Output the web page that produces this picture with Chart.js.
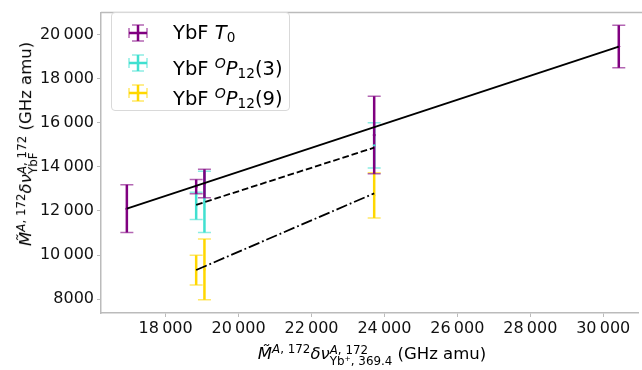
<!DOCTYPE html>
<html>
<head>
<meta charset="utf-8">
<script src="https://cdn.jsdelivr.net/npm/chart.js"></script>
<style>
    body { margin: 0; background: #fff; font-family: "DejaVu Sans", sans-serif; }
    #wrap { position: relative; width: 642px; height: 370px; overflow: hidden; }
    #wrap canvas { position: absolute; left: 0; top: 0; }
    .ttl { position: absolute; white-space: nowrap; font-size: 16.5px; line-height: 20px; color: #000; }
    #ytitle { left: 25px; top: 144px; transform: translate(-50%, -50%) rotate(-90deg); }
    #xtitle { left: 372px; top: 353px; transform: translate(-50%, -50%); }
    .ss { display: inline-flex; flex-direction: column; font-size: 0.72em; line-height: 0.92; vertical-align: 0.42em; }
    .sp { font-size: 0.72em; vertical-align: 0.5em; }
    .sb { font-size: 0.7em; vertical-align: -0.25em; }
    #legend { position: absolute; left: 111px; top: 12px; width: 177px; height: 97px;
              border: 1px solid #d9d9d9; border-radius: 4px; background: rgba(255,255,255,0.8); }
    .row { position: absolute; left: 0; height: 24px; font-size: 19.5px; line-height: 24px; }
    .row svg { position: absolute; left: 16px; top: 3px; }
    .row span.t { position: absolute; left: 61px; top: 0; white-space: nowrap; }
</style>
</head>
<body>
<div id="wrap">
    <canvas id="chart" width="642" height="370"></canvas>

    <div id="legend">
        <div class="row" style="top: 8px;">
            <svg width="20" height="18"><g stroke="#800080"><path d="M10 1V17M1 9H19" stroke-width="2.5"/><path d="M4 1H16M4 17H16M1 4V14M19 4V14" stroke-width="1.5" opacity="0.6"/></g></svg>
            <span class="t">YbF <i>T</i><span class="sb">0</span></span>
        </div>
        <div class="row" style="top: 38px;">
            <svg width="20" height="18"><g stroke="#40e0d0"><path d="M10 1V17M1 9H19" stroke-width="2.5"/><path d="M4 1H16M4 17H16M1 4V14M19 4V14" stroke-width="1.5" opacity="0.6"/></g></svg>
            <span class="t">YbF <span class="sp"><i>O</i></span><i>P</i><span class="sb">12</span>(3)</span>
        </div>
        <div class="row" style="top: 68px;">
            <svg width="20" height="18"><g stroke="#ffd700"><path d="M10 1V17M1 9H19" stroke-width="2.5"/><path d="M4 1H16M4 17H16M1 4V14M19 4V14" stroke-width="1.5" opacity="0.6"/></g></svg>
            <span class="t">YbF <span class="sp"><i>O</i></span><i>P</i><span class="sb">12</span>(9)</span>
        </div>
    </div>

    <div id="ytitle" class="ttl"><i>M&#771;</i><span class="sp"><i>A</i>, 172</span><i>&delta;&nu;</i><span class="ss"><span><i>A</i>, 172</span><span>YbF</span></span> (GHz amu)</div>
    <div id="xtitle" class="ttl"><i>M&#771;</i><span class="sp"><i>A</i>, 172</span><i>&delta;&nu;</i><span class="ss"><span><i>A</i>, 172</span><span>Yb&#8314;, 369.4</span></span> (GHz amu)</div>
</div>

<script>
    // axis limits and ticks
    const xRange = [16227, 30954];
    const yRange = [7379, 20988];
    const xTicks = [18000, 20000, 22000, 24000, 26000, 28000, 30000];
    const yTicks = [8000, 10000, 12000, 14000, 16000, 18000, 20000];

    // YbF T0
    const t0X = [16936, 18837, 19064, 23719, 30427];
    const t0Y = [12105, 13101, 13246, 15443, 19451];
    const t0XErr = [30, 30, 30, 30, 30];
    const t0YErr = [1082, 322, 643, 1755, 966];

    // YbF OP12(3)
    const p3X = [18837, 19064, 23719];
    const p3Y = [12230, 12412, 14974];
    const p3XErr = [30, 30, 30];
    const p3YErr = [615, 1390, 1022];

    // YbF OP12(9)
    const p9X = [18837, 19064, 23719];
    const p9Y = [9326, 9355, 12706];
    const p9XErr = [30, 30, 30];
    const p9YErr = [674, 1374, 1025];

    // fitted lines
    const fitT0X = [16936, 30427];
    const fitT0Y = [12105, 19451];
    const fitP3X = [18837, 23719];
    const fitP3Y = [12280, 14870];
    const fitP9X = [18837, 23719];
    const fitP9Y = [9326, 12800];

    const purple = '#800080', turq = '#40e0d0', gold = '#ffd700';

    function pts(xs, ys) {
        return xs.map((x, i) => ({x: x, y: ys[i]}));
    }

    function fmt(v) {
        const s = String(v);
        return v >= 10000 ? s.slice(0, s.length - 3) + '\u2009' + s.slice(-3) : s;
    }

    // errorbars under the lines
    const errorBars = {
        id: 'errorBars',
        beforeDatasetsDraw(chart) {
            const ctx = chart.ctx, xs = chart.scales.x, ys = chart.scales.y;
            chart.data.datasets.forEach(ds => {
                if (!ds.yErr) return;
                ds.data.forEach((p, i) => {
                    const px = xs.getPixelForValue(p.x), py = ys.getPixelForValue(p.y);
                    const top = ys.getPixelForValue(p.y + ds.yErr[i]);
                    const bot = ys.getPixelForValue(p.y - ds.yErr[i]);
                    const l = xs.getPixelForValue(p.x - ds.xErr[i]);
                    const r = xs.getPixelForValue(p.x + ds.xErr[i]);
                    ctx.save();
                    ctx.strokeStyle = ds.borderColor;
                    ctx.lineWidth = 2.5;
                    ctx.beginPath();
                    ctx.moveTo(px, top); ctx.lineTo(px, bot);
                    ctx.moveTo(l, py); ctx.lineTo(r, py);
                    ctx.stroke();
                    ctx.globalAlpha = 0.6;
                    ctx.lineWidth = 1.5;
                    ctx.beginPath();
                    ctx.moveTo(px - 6.5, top); ctx.lineTo(px + 6.5, top);
                    ctx.moveTo(px - 6.5, bot); ctx.lineTo(px + 6.5, bot);
                    ctx.stroke();
                    ctx.restore();
                });
            });
        },
        // top spine, right one sits off the picture
        afterDraw(chart) {
            const ctx = chart.ctx, a = chart.chartArea;
            ctx.save();
            ctx.strokeStyle = '#bbb';
            ctx.lineWidth = 1.5;
            ctx.beginPath();
            ctx.moveTo(a.left, a.top); ctx.lineTo(chart.width, a.top);
            ctx.stroke();
            ctx.restore();
        }
    };

    Chart.defaults.font.family = '"DejaVu Sans", sans-serif';
    Chart.defaults.color = '#111';

    new Chart(document.getElementById('chart'), {
        type: 'scatter',
        data: {
            datasets: [
                {data: pts(fitT0X, fitT0Y), showLine: true, borderColor: '#000', borderWidth: 1.8, pointRadius: 0},
                {data: pts(fitP3X, fitP3Y), showLine: true, borderColor: '#000', borderWidth: 1.8, borderDash: [6.7, 2.9], pointRadius: 0},
                {data: pts(fitP9X, fitP9Y), showLine: true, borderColor: '#000', borderWidth: 1.8, borderDash: [11.5, 2.9, 1.8, 2.9], pointRadius: 0},
                {data: pts(p9X, p9Y), xErr: p9XErr, yErr: p9YErr, borderColor: gold, backgroundColor: gold, pointRadius: 1.2, borderWidth: 0},
                {data: pts(p3X, p3Y), xErr: p3XErr, yErr: p3YErr, borderColor: turq, backgroundColor: turq, pointRadius: 1.2, borderWidth: 0},
                {data: pts(t0X, t0Y), xErr: t0XErr, yErr: t0YErr, borderColor: purple, backgroundColor: purple, pointRadius: 1.5, borderWidth: 0}
            ]
        },
        options: {
            responsive: false,
            animation: false,
            layout: {padding: {top: 3, right: 1, left: 0, bottom: 0}},
            plugins: {legend: {display: false}, tooltip: {enabled: false}},
            scales: {
                x: {
                    type: 'linear',
                    min: xRange[0], max: xRange[1],
                    afterBuildTicks: s => { s.ticks = xTicks.map(v => ({value: v})); },
                    afterFit: s => { s.height = 57; },
                    grid: {drawOnChartArea: false, color: '#bbb', tickLength: 4, tickWidth: 1},
                    border: {color: '#bbb', width: 1.5},
                    ticks: {font: {size: 16}, padding: 2, maxRotation: 0, callback: v => fmt(v)}
                },
                y: {
                    type: 'linear',
                    min: yRange[0], max: yRange[1],
                    afterBuildTicks: s => { s.ticks = yTicks.map(v => ({value: v})); },
                    afterFit: s => { s.width = 101; },
                    grid: {drawOnChartArea: false, color: '#bbb', tickLength: 4, tickWidth: 1},
                    border: {color: '#bbb', width: 1.5},
                    ticks: {font: {size: 16}, padding: 3, callback: v => fmt(v)}
                }
            }
        },
        plugins: [errorBars]
    });
</script>
</body>
</html>
